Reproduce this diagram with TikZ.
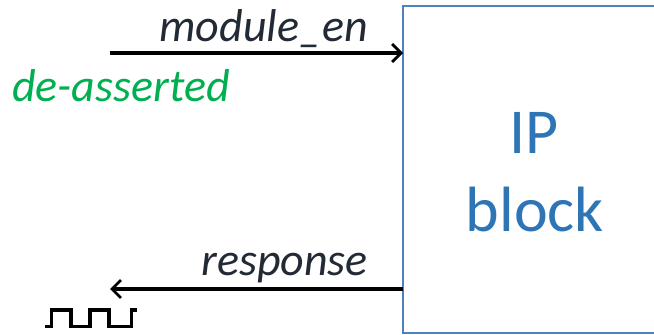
\documentclass[tikz,border=0pt]{standalone}
\usepackage{fontspec}
\setmainfont{Carlito}
\usetikzlibrary{arrows.meta}
\definecolor{boxblue}{HTML}{4F81BD}
\definecolor{ipblue}{HTML}{2E75B6}
\definecolor{sigtext}{HTML}{222A35}
\definecolor{greentext}{HTML}{00B050}
\tikzset{
  sig/.style={draw=black, line width=3.1pt, -{Straight Barb[length=9pt,width=18pt,line width=2.8pt]}},
  siglabel/.style={font=\fontsize{46}{50}\selectfont\itshape, text=sigtext, inner sep=0pt},
}
\begin{document}
\begin{tikzpicture}[x=1pt,y=1pt]
\useasboundingbox (0,0) rectangle (654,335);
\clip (0,0) rectangle (654,335);
\fill[white] (0,0) rectangle (654,335);
\draw[boxblue, line width=1.6pt] (403,2) rectangle (720,329);
\coordinate (boxin) at (403,282);
\coordinate (boxout) at (403,46);
\coordinate (srcin) at (110,282);
\coordinate (dstout) at (110,46);
\node[font=\fontsize{64}{78}\selectfont, text=ipblue, inner sep=0pt, anchor=base] (ip) at (534,181) {IP};
\node[font=\fontsize{64}{78}\selectfont, text=ipblue, inner sep=0pt, anchor=base] (blk) at (535,103) {block};
\draw[sig] (srcin) -- (boxin);
\draw[sig] (boxout) -- (dstout);
\node[siglabel, anchor=base east] (men) at (368,293) {module\_en};
\node[siglabel, text=greentext, anchor=base west] (deas) at (12,233) {de-asserted};
\node[siglabel, anchor=base east] (resp) at (368,59) {response};
\draw[line width=3.2pt, line join=miter] (45,8.5) -- (51.7,8.5) -- (51.7,25) -- (71,25) -- (71,8.5) -- (90,8.5) -- (90,25) -- (109,25) -- (109,8.5) -- (131.7,8.5) -- (131.7,25) -- (137,25);
\end{tikzpicture}
\end{document}
